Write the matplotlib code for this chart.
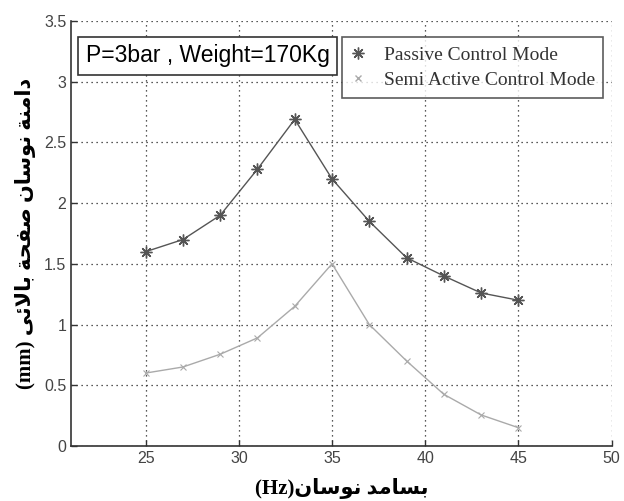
import matplotlib
matplotlib.use('Agg')
import matplotlib.pyplot as plt
from matplotlib.lines import Line2D

# data
freq = [25, 27, 29, 31, 33, 35, 37, 39, 41, 43, 45]
passive = [1.60, 1.70, 1.90, 2.28, 2.69, 2.20, 1.85, 1.55, 1.40, 1.26, 1.20]
semi_active = [0.60, 0.65, 0.755, 0.89, 1.15, 1.50, 1.00, 0.70, 0.425, 0.255, 0.15]
x_ticks = [25, 30, 35, 40, 45, 50]
y_ticks = [0, 0.5, 1, 1.5, 2, 2.5, 3, 3.5]
y_tick_labels = ['0', '0.5', '1', '1.5', '2', '2.5', '3', '3.5']
series_names = ['Passive Control Mode', 'Semi Active Control Mode']
box_text = 'P=3bar , Weight=170Kg'
x_label_fa = 'بسامد نوسان'
y_label_fa = 'دامنة نوسان صفحة بالائى'

# minimal arabic shaping (matplotlib has no bidi/shaping)
FORMS = {
    'ا': (0xFE8D, 0xFE8E, None, None),
    'ب': (0xFE8F, 0xFE90, 0xFE91, 0xFE92),
    'ة': (0xFE93, 0xFE94, None, None),
    'ح': (0xFEA1, 0xFEA2, 0xFEA3, 0xFEA4),
    'د': (0xFEA9, 0xFEAA, None, None),
    'س': (0xFEB1, 0xFEB2, 0xFEB3, 0xFEB4),
    'ص': (0xFEB9, 0xFEBA, 0xFEBB, 0xFEBC),
    'ف': (0xFED1, 0xFED2, 0xFED3, 0xFED4),
    'ل': (0xFEDD, 0xFEDE, 0xFEDF, 0xFEE0),
    'م': (0xFEE1, 0xFEE2, 0xFEE3, 0xFEE4),
    'ن': (0xFEE5, 0xFEE6, 0xFEE7, 0xFEE8),
    'ه': (0xFEE9, 0xFEEA, 0xFEEB, 0xFEEC),
    'و': (0xFEED, 0xFEEE, None, None),
    'ئ': (0xFE89, 0xFE8A, 0xFE8B, 0xFE8C),
    'ى': (0xFEEF, 0xFEF0, None, None),
    'ﻻ': (0xFEFB, 0xFEFC, None, None),
}


def shape(word):
    word = word.replace('لا', 'ﻻ')
    out = []
    for i, ch in enumerate(word):
        if ch not in FORMS:
            out.append(ch)
            continue
        prev = word[i - 1] if i > 0 else ''
        nxt = word[i + 1] if i < len(word) - 1 else ''
        join_prev = prev in FORMS and FORMS[prev][2] is not None
        join_next = nxt in FORMS and FORMS[ch][2] is not None
        iso, fin, ini, med = FORMS[ch]
        if join_prev and join_next:
            code = med
        elif join_prev:
            code = fin
        elif join_next:
            code = ini
        else:
            code = iso
        out.append(chr(code))
    return ''.join(out)[::-1]


def rtl(text):
    return ' '.join(shape(w) for w in text.split(' ')[::-1])


fig = plt.figure(figsize=(6.24, 5.01), dpi=100)
ax = fig.add_axes([0.114, 0.110, 0.866, 0.848])

# matlab style '*' marker = plus + cross
star = (8, 2, 0)
ax.plot(freq, passive, color='#555555', lw=1.0, marker=star, ms=8.5, mew=1.0)
ax.plot(freq, semi_active, color='#aaaaaa', lw=1.0, marker='x', ms=5, mew=0.8)

ax.set_xlim(21, 50)
ax.set_ylim(0, 3.5)
ax.set_xticks(x_ticks)
ax.set_yticks(y_ticks)
ax.set_yticklabels(y_tick_labels)
ax.tick_params(direction='in', length=4, width=1, colors='#333333',
               labelsize=11.5, labelcolor='#444444')
for lab in ax.get_xticklabels() + ax.get_yticklabels():
    lab.set_family('Liberation Sans')
ax.grid(True, linestyle=(0, (1, 3)), color='#222222', lw=0.9)
ax.spines['top'].set_visible(False)
ax.spines['right'].set_visible(False)
ax.spines['left'].set_color('#333333')
ax.spines['bottom'].set_color('#333333')
ax.spines['left'].set_linewidth(1.2)
ax.spines['bottom'].set_linewidth(1.2)

ax.set_xlabel('(Hz)' + rtl(x_label_fa), fontsize=15, fontweight='bold',
              family=['Liberation Serif', 'DejaVu Sans'], labelpad=9)
ax.set_ylabel('(mm) ' + rtl(y_label_fa), fontsize=15, fontweight='bold',
              family=['Liberation Serif', 'DejaVu Sans'], labelpad=6)

ax.text(0.027, 0.945, box_text, transform=ax.transAxes, fontsize=16.5,
        family='Liberation Sans', va='top', ha='left',
        bbox=dict(boxstyle='square,pad=0.32', fc='white', ec='#333333', lw=1.2))

handles = [
    Line2D([], [], ls='none', marker=star, ms=8.5, mew=1.0, color='#555555'),
    Line2D([], [], ls='none', marker='x', ms=5, color='#aaaaaa'),
]
leg = ax.legend(handles, series_names, loc='upper right',
                bbox_to_anchor=(0.985, 0.962), frameon=True, fancybox=False,
                prop={'family': 'Liberation Serif', 'size': 14},
                handlelength=0.8, handletextpad=0.9, borderpad=0.45,
                labelspacing=0.4, borderaxespad=0)
leg.get_frame().set_edgecolor('#333333')
leg.get_frame().set_linewidth(1.2)
for t in leg.get_texts():
    t.set_color('#333333')

fig.savefig('out.png', dpi=100)
